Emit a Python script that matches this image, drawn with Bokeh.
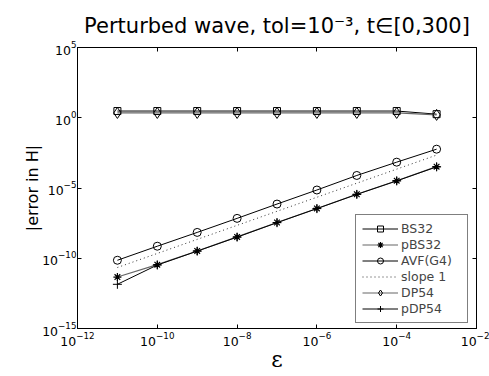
from bokeh.plotting import figure
from bokeh.models import LogAxis, FixedTicker, Legend, LegendItem, Range1d, CustomJSTickFormatter
from bokeh.embed import file_html
from bokeh.resources import INLINE

# ---- data ----
eps = [1e-11, 1e-10, 1e-9, 1e-8, 1e-7, 1e-6, 1e-5, 1e-4, 1e-3]
bs32 = [3.0, 3.0, 3.0, 3.0, 3.0, 3.0, 3.0, 3.0, 1.8]
pbs32 = [4.6e-12, 3.5e-11, 3.3e-10, 3.3e-9, 3.5e-8, 3.5e-7, 3.6e-6, 3.3e-5, 3.3e-4]
avf = [7.2e-11, 7.2e-10, 6.9e-9, 6.9e-8, 7.2e-7, 7.2e-6, 7.8e-5, 6.9e-4, 5.8e-3]
slope1 = [2.2e-11, 2.2e-10, 2.2e-9, 2.2e-8, 2.2e-7, 2.2e-6, 2.2e-5, 2.2e-4, 2.2e-3]
dp54 = [2.2, 2.2, 2.2, 2.2, 2.2, 2.2, 2.2, 2.2, 1.6]
pdp54 = [1.4e-12, 3.3e-11, 3.2e-10, 3.2e-9, 3.4e-8, 3.4e-7, 3.5e-6, 3.2e-5, 3.2e-4]

x_ticks = [1e-12, 1e-10, 1e-8, 1e-6, 1e-4, 1e-2]
y_ticks = [1e-15, 1e-10, 1e-5, 1e0, 1e5]

title_text = "Perturbed wave, tol=10\u207b\u00b3, t\u2208[0,300]"
ylabel = "|error in H|"
xlabel = "\u03b5"

FONT = "DejaVu Sans"
GRAY = "#666666"

p = figure(width=489, height=376, x_axis_type="log", y_axis_type="log",
           x_range=Range1d(1e-12, 1e-2), y_range=Range1d(1e-15, 1e5),
           output_backend="svg", toolbar_location=None,
           min_border_left=77, min_border_right=13, min_border_top=47, min_border_bottom=48)
p.grid.visible = False
p.outline_line_color = "black"
p.outline_line_width = 1
p.background_fill_color = "white"
p.border_fill_color = "white"

p.title.text = title_text
p.title.text_font = FONT
p.title.text_font_size = "21px"
p.title.text_font_style = "normal"
p.title.align = "center"
p.title.text_color = "black"
p.title.standoff = 20

def style_axis(ax, labels=True):
    ax.major_tick_in = 4
    ax.major_tick_out = 0
    ax.minor_tick_in = 0
    ax.minor_tick_out = 0
    ax.axis_line_color = "black"
    ax.major_tick_line_color = "black"
    if labels:
        ax.major_label_text_font = FONT
        ax.major_label_text_font_size = "12.5px"
        ax.major_label_text_color = "black"
    else:
        ax.formatter = CustomJSTickFormatter(code="return ''")
        ax.major_label_standoff = 0
        ax.major_label_text_font_size = "1px"

p.xaxis.ticker = FixedTicker(ticks=x_ticks, minor_ticks=[])
p.yaxis.ticker = FixedTicker(ticks=y_ticks, minor_ticks=[])
style_axis(p.xaxis[0])
style_axis(p.yaxis[0])
p.xaxis.major_label_standoff = 3
p.yaxis.major_label_standoff = 1

p.yaxis.axis_label = ylabel
p.yaxis.axis_label_text_font = FONT
p.yaxis.axis_label_text_font_size = "16px"
p.yaxis.axis_label_text_font_style = "normal"
p.yaxis.axis_label_text_color = "black"
p.yaxis.axis_label_standoff = -3

p.xaxis.axis_label = xlabel
p.xaxis.axis_label_text_font = "DejaVu Serif"
p.xaxis.axis_label_text_font_size = "22px"
p.xaxis.axis_label_text_font_style = "normal"
p.xaxis.axis_label_text_color = "black"
p.xaxis.axis_label_standoff = -2

top = LogAxis(ticker=FixedTicker(ticks=x_ticks, minor_ticks=[]))
style_axis(top, labels=False)
p.add_layout(top, "above")
right = LogAxis(ticker=FixedTicker(ticks=y_ticks, minor_ticks=[]))
style_axis(right, labels=False)
p.add_layout(right, "right")

# ---- series ----
l1 = p.line(eps, bs32, line_color="black", line_width=1)
m1 = p.scatter(eps, bs32, marker="square", size=7, line_color="black", fill_color=None)
l2 = p.line(eps, pbs32, line_color=GRAY, line_width=1.2)
m2 = p.scatter(eps, pbs32, marker="asterisk", size=8, line_color="black", line_width=1.2)
l3 = p.line(eps, avf, line_color="black", line_width=1)
m3 = p.scatter(eps, avf, marker="circle", size=8, line_color="black", fill_color=None)
l4 = p.line(eps, slope1, line_color="#333333", line_width=1, line_dash="1 3")
l5 = p.line(eps, dp54, line_color=GRAY, line_width=1.2)
m5 = p.scatter(eps, dp54, marker="diamond", size=11, line_color="black", fill_color=None)
l6 = p.line(eps, pdp54, line_color="black", line_width=1)
m6 = p.scatter(eps, pdp54, marker="cross", size=9, line_color="black")

legend = Legend(items=[
    LegendItem(label="BS32", renderers=[l1, m1]),
    LegendItem(label="pBS32", renderers=[l2, m2]),
    LegendItem(label="AVF(G4)", renderers=[l3, m3]),
    LegendItem(label="slope 1", renderers=[l4]),
    LegendItem(label="DP54", renderers=[l5, m5]),
    LegendItem(label="pDP54", renderers=[l6, m6]),
], location=(278, 5))
legend.border_line_color = "black"
legend.border_line_width = 1
legend.background_fill_color = "white"
legend.background_fill_alpha = 1
legend.label_text_font = FONT
legend.label_text_font_size = "12.5px"
legend.glyph_width = 36
legend.glyph_height = 15
legend.label_height = 15
legend.label_width = 60
legend.spacing = 1
legend.padding = 6
legend.margin = 0
legend.label_standoff = 3
p.add_layout(legend)

open("out.html", "w").write(file_html(p, INLINE))
